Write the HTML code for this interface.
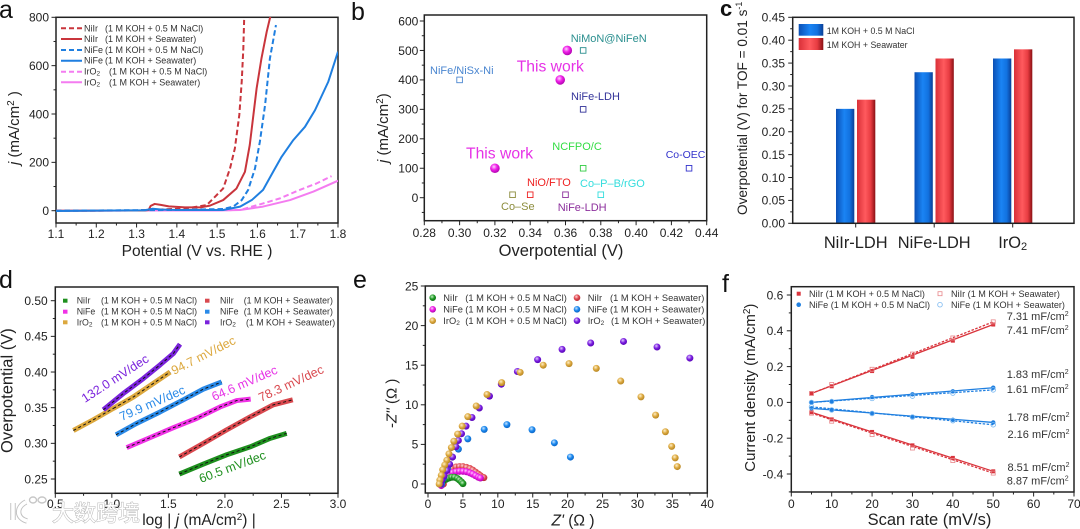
<!DOCTYPE html>
<html lang="en">
<head>
<meta charset="utf-8">
<title>Electrocatalyst performance figure</title>
<style>
html,body{margin:0;padding:0;background:#fff;}
#figure{display:block;width:1080px;height:529px;font-family:"Liberation Sans","Noto Sans CJK SC",sans-serif;filter:blur(0.35px);}
text{font-family:"Liberation Sans","Noto Sans CJK SC",sans-serif;fill:#222;}
.frame{fill:none;stroke:#222;stroke-width:1.5;}
.lg{font-size:9px;fill:#333;}
.title{font-size:16px;fill:#222;}
.pl{font-size:25px;fill:#111;}
.bl{font-size:11px;}
.tw{font-size:15.7px;fill:#e632e6;}
.ann{font-size:11px;fill:#333;}
.slope{font-size:12.5px;}
</style>
</head>
<body>
<svg id="figure" xmlns="http://www.w3.org/2000/svg" width="1080" height="529" viewBox="0 0 1080 529">
<defs>
<clipPath id="clipA"><rect x="56" y="17" width="282" height="206"/></clipPath>
<linearGradient id="barBlue" x1="0" x2="1" y1="0" y2="0">
<stop offset="0" stop-color="#0b4fb4"/><stop offset=".45" stop-color="#1a84f4"/><stop offset=".75" stop-color="#1272e0"/><stop offset="1" stop-color="#0a3f96"/>
</linearGradient>
<linearGradient id="barRed" x1="0" x2="1" y1="0" y2="0">
<stop offset="0" stop-color="#d93038"/><stop offset=".45" stop-color="#ff5a5e"/><stop offset=".75" stop-color="#e83c42"/><stop offset="1" stop-color="#8a1014"/>
</linearGradient>
<radialGradient id="ballMagenta" cx=".4" cy=".35" r=".7"><stop offset="0" stop-color="#ffd0ff"/><stop offset=".45" stop-color="#f020e8"/><stop offset="1" stop-color="#a800a8"/></radialGradient>
<radialGradient id="ballGreen" cx=".4" cy=".35" r=".7"><stop offset="0" stop-color="#c8f0c8"/><stop offset=".5" stop-color="#1e9a24"/><stop offset="1" stop-color="#0c6a12"/></radialGradient>
<radialGradient id="ballRed" cx=".4" cy=".35" r=".7"><stop offset="0" stop-color="#ffd8d8"/><stop offset=".5" stop-color="#e04850"/><stop offset="1" stop-color="#b02830"/></radialGradient>
<radialGradient id="ballBlue" cx=".4" cy=".35" r=".7"><stop offset="0" stop-color="#c8e4ff"/><stop offset=".5" stop-color="#1a88ee"/><stop offset="1" stop-color="#0a60c0"/></radialGradient>
<radialGradient id="ballGold" cx=".4" cy=".35" r=".7"><stop offset="0" stop-color="#fff0c8"/><stop offset=".5" stop-color="#dca83e"/><stop offset="1" stop-color="#b08020"/></radialGradient>
<radialGradient id="ballPurple" cx=".4" cy=".35" r=".7"><stop offset="0" stop-color="#e0c8ff"/><stop offset=".5" stop-color="#7a1ee0"/><stop offset="1" stop-color="#5400b0"/></radialGradient>
</defs>
<rect x="0" y="0" width="1080" height="529" fill="#fff"/>

<!-- Panel labels -->
<text class="pl" x="-1" y="18">a</text>
<text class="pl" x="351" y="20">b</text>
<text class="pl" x="720" y="16" font-weight="bold" style="font-size:22px">c</text>
<text class="pl" x="-1" y="288">d</text>
<text class="pl" x="353" y="288">e</text>
<text class="pl" x="722" y="292">f</text>

<!-- Panel A -->
<g id="panelA">
<rect class="frame" x="56" y="17.3" width="282" height="205.7"/>
<text x="197" y="256" text-anchor="middle" style="font-size:15.5px">Potential (V vs. RHE )</text>
<text transform="translate(19,165) rotate(-90)" style="font-size:15px"><tspan font-style="italic">j</tspan> (mA/cm<tspan dy="-5" font-size="10">2</tspan><tspan dy="5"> )</tspan></text>
<g>
<line x1="61" x2="82" y1="28.3" y2="28.3" stroke="#c9353c" stroke-width="2" stroke-dasharray="5 3"/>
<text class="lg" x="84" y="31.3">NiIr<tspan x="105">(1 M KOH + 0.5 M NaCl)</tspan></text>
<line x1="61" x2="82" y1="39" y2="39" stroke="#c9353c" stroke-width="2"/>
<text class="lg" x="84" y="42">NiIr<tspan x="105">(1 M KOH + Seawater)</tspan></text>
<line x1="61" x2="82" y1="50" y2="50" stroke="#1f7fe0" stroke-width="2" stroke-dasharray="5 3"/>
<text class="lg" x="84" y="53">NiFe<tspan x="105">(1 M KOH + 0.5 M NaCl)</tspan></text>
<line x1="61" x2="82" y1="60.7" y2="60.7" stroke="#1f7fe0" stroke-width="2"/>
<text class="lg" x="84" y="63.7">NiFe<tspan x="105">(1 M KOH + Seawater)</tspan></text>
<line x1="61" x2="82" y1="71.7" y2="71.7" stroke="#f47cf0" stroke-width="2" stroke-dasharray="5 3"/>
<text class="lg" x="84" y="74.7">IrO<tspan font-size="6.5" dy="1">2</tspan><tspan x="109" dy="-1">(1 M KOH + 0.5 M NaCl)</tspan></text>
<line x1="61" x2="82" y1="82.3" y2="82.3" stroke="#f47cf0" stroke-width="2"/>
<text class="lg" x="84" y="85.3">IrO<tspan font-size="6.5" dy="1">2</tspan><tspan x="109" dy="-1">(1 M KOH + Seawater)</tspan></text>
</g>
</g>

<!-- Panel B -->
<g id="panelB">
<rect class="frame" x="424.3" y="15" width="282.4" height="205.7"/>
<text x="561" y="256" text-anchor="middle" style="font-size:16.5px">Overpotential (V)</text>
<text transform="translate(388,163) rotate(-90)" style="font-size:15px"><tspan font-style="italic">j</tspan> (mA/cm<tspan dy="-5" font-size="10">2</tspan><tspan dy="5">)</tspan></text>
<text class="bl" x="570.7" y="42" style="fill:#2a8f8f">NiMoN@NiFeN</text>
<text class="bl" x="430" y="74" style="fill:#4a86d0">NiFe/NiSx-Ni</text>
<text class="tw" x="516.7" y="71.7">This work</text>
<text class="bl" x="571" y="100" style="fill:#333399">NiFe-LDH</text>
<text class="bl" x="552.3" y="150" style="fill:#33dd44">NCFPO/C</text>
<text class="bl" x="665.7" y="158" style="fill:#3333cc;font-size:10.5px">Co-OEC</text>
<text class="tw" x="466" y="158.3">This work</text>
<text class="bl" x="527" y="186" style="fill:#ee2222">NiO/FTO</text>
<text class="bl" x="580" y="187" style="fill:#33dddd">Co–P–B/rGO</text>
<text class="bl" x="501" y="210" style="fill:#8c8c3c">Co–Se</text>
<text class="bl" x="557.7" y="211" style="fill:#8c2f9c">NiFe-LDH</text>
</g>

<!-- Panel C -->
<g id="panelC">
<text transform="translate(747,215) rotate(-90)" style="font-size:13.6px">Overpotential (V) for TOF = 0.01 s<tspan dy="-5" font-size="9">-1</tspan></text>
<g>
<rect x="798.7" y="24" width="24.6" height="11.7" fill="url(#barBlue)"/>
<text class="lg" x="826.7" y="34" style="font-size:8.8px">1M KOH + 0.5 M NaCl</text>
<rect x="798.7" y="38" width="24.6" height="12" fill="url(#barRed)"/>
<text class="lg" x="826.7" y="48" style="font-size:8.8px">1M KOH + Seawater</text>
</g>
</g>

<!-- Panel D -->
<g id="panelD">
<rect class="frame" x="55.3" y="287" width="282.7" height="206.3"/>
<text x="199" y="525" text-anchor="middle" style="font-size:15.5px">log | <tspan font-style="italic">j</tspan> (mA/cm<tspan dy="-5" font-size="10">2</tspan><tspan dy="5">) |</tspan></text>
<text transform="translate(12.7,453) rotate(-90)" style="font-size:16.5px">Overpotential (V)</text>
<g>
<rect x="63" y="298.7" width="4.5" height="4" fill="#1e8f1e"/>
<text class="lg" x="76.7" y="303.7" style="font-size:8.8px">NiIr<tspan x="101">(1 M KOH + 0.5 M NaCl)</tspan></text>
<rect x="63" y="309.7" width="4.5" height="4" fill="#f032e6"/>
<text class="lg" x="76.7" y="314.7" style="font-size:8.8px">NiFe<tspan x="101">(1 M KOH + 0.5 M NaCl)</tspan></text>
<rect x="63" y="320.3" width="4.5" height="4" fill="#dca83e"/>
<text class="lg" x="76.7" y="325.3" style="font-size:8.8px">IrO<tspan font-size="6.5" dy="1">2</tspan><tspan x="101" dy="-1">(1 M KOH + 0.5 M NaCl)</tspan></text>
<rect x="205" y="298.7" width="4.5" height="4" fill="#d9494f"/>
<text class="lg" x="220" y="303.7" style="font-size:8.8px">NiIr<tspan x="243.7">(1 M KOH + Seawater)</tspan></text>
<rect x="205" y="309.7" width="4.5" height="4" fill="#2a8ae8"/>
<text class="lg" x="220" y="314.7" style="font-size:8.8px">NiFe<tspan x="243.7">(1 M KOH + Seawater)</tspan></text>
<rect x="205" y="320.3" width="4.5" height="4" fill="#7a22dc"/>
<text class="lg" x="220" y="325.3" style="font-size:8.8px">IrO<tspan font-size="6.5" dy="1">2</tspan><tspan x="246" dy="-1">(1 M KOH + Seawater)</tspan></text>
</g>
</g>

<!-- Panel E -->
<g id="panelE">
<rect class="frame" x="425.3" y="286" width="282" height="207"/>
<text x="573" y="525.5" text-anchor="middle" style="font-size:15.5px"><tspan font-style="italic">Z'</tspan> (Ω )</text>
<text transform="translate(396.7,428) rotate(-90)" style="font-size:15px">-<tspan font-style="italic">Z''</tspan> (Ω )</text>
<g>
<circle cx="432.7" cy="297.7" r="3.3" fill="url(#ballGreen)"/>
<text class="lg" x="443.3" y="300.9" style="font-size:9.3px">NiIr<tspan x="465.3">(1 M KOH + 0.5 M NaCl)</tspan></text>
<circle cx="432.7" cy="309.3" r="3.3" fill="url(#ballMagenta)"/>
<text class="lg" x="443.3" y="312.5" style="font-size:9.3px">NiFe<tspan x="465.3">(1 M KOH + 0.5 M NaCl)</tspan></text>
<circle cx="432.7" cy="320.7" r="3.3" fill="url(#ballGold)"/>
<text class="lg" x="443.3" y="323.9" style="font-size:9.3px">IrO<tspan font-size="6.5" dy="1">2</tspan><tspan x="465.3" dy="-1">(1 M KOH + 0.5 M NaCl)</tspan></text>
<circle cx="577" cy="297.7" r="3.3" fill="url(#ballRed)"/>
<text class="lg" x="587.7" y="300.9" style="font-size:9.3px">NiIr<tspan x="610">(1 M KOH + Seawater)</tspan></text>
<circle cx="577" cy="309.3" r="3.3" fill="url(#ballBlue)"/>
<text class="lg" x="587.7" y="312.5" style="font-size:9.3px">NiFe<tspan x="610">(1 M KOH + Seawater)</tspan></text>
<circle cx="577" cy="320.7" r="3.3" fill="url(#ballPurple)"/>
<text class="lg" x="587.7" y="323.9" style="font-size:9.3px">IrO<tspan font-size="6.5" dy="1">2</tspan><tspan x="611" dy="-1">(1 M KOH + Seawater)</tspan></text>
</g>
</g>

<!-- Panel F -->
<g id="panelF">
<rect class="frame" x="791.3" y="286.7" width="282.7" height="205.3"/>
<text x="929.5" y="525" text-anchor="middle" style="font-size:16.5px">Scan rate (mV/s)</text>
<text transform="translate(755,471.7) rotate(-90)" style="font-size:15px">Current density (mA/cm<tspan dy="-5" font-size="10">2</tspan><tspan dy="5">)</tspan></text>
<g>
<rect x="796.7" y="291.7" width="4" height="4" fill="#d9343c"/>
<text class="lg" x="809" y="296.9" style="font-size:9.1px">NiIr (1 M KOH + 0.5 M NaCl)</text>
<circle cx="798.7" cy="304.7" r="2.3" fill="#1f7fe0"/>
<text class="lg" x="809" y="307.9" style="font-size:9.1px">NiFe (1 M KOH + 0.5 M NaCl)</text>
<rect x="938" y="291.7" width="4" height="4" fill="none" stroke="#e8888c" stroke-width=".8"/>
<text class="lg" x="951" y="296.9" style="font-size:9.1px">NiIr (1 M KOH + Seawater)</text>
<circle cx="940" cy="304.7" r="2.3" fill="none" stroke="#7ab8f0" stroke-width=".8"/>
<text class="lg" x="951" y="307.9" style="font-size:9.1px">NiFe (1 M KOH + Seawater)</text>
</g>
<text class="ann" x="1006.7" y="320">7.31 mF/cm<tspan dy="-4" font-size="7">2</tspan></text>
<text class="ann" x="1006.7" y="334">7.41 mF/cm<tspan dy="-4" font-size="7">2</tspan></text>
<text class="ann" x="1006.7" y="378">1.83 mF/cm<tspan dy="-4" font-size="7">2</tspan></text>
<text class="ann" x="1006.7" y="393">1.61 mF/cm<tspan dy="-4" font-size="7">2</tspan></text>
<text class="ann" x="1007.5" y="421">1.78 mF/cm<tspan dy="-4" font-size="7">2</tspan></text>
<text class="ann" x="1007.5" y="438">2.16 mF/cm<tspan dy="-4" font-size="7">2</tspan></text>
<text class="ann" x="1007.5" y="471">8.51 mF/cm<tspan dy="-4" font-size="7">2</tspan></text>
<text class="ann" x="1006.7" y="484.5">8.87 mF/cm<tspan dy="-4" font-size="7">2</tspan></text>
</g>

<!-- Watermark -->
<g id="watermark" opacity=".95">
<path d="M13 503 V520 M26 502 C16 507 16 518 27 521" fill="none" stroke="#bdbdbd" stroke-width="5.4"/>
<path d="M13 503 V520 M26 502 C16 507 16 518 27 521" fill="none" stroke="#fff" stroke-width="3.6"/>
<ellipse cx="33" cy="500" rx="3.5" ry="3" fill="none" stroke="#c4c4c4" stroke-width="1.4"/>
<ellipse cx="42" cy="500" rx="4" ry="3" fill="none" stroke="#c4c4c4" stroke-width="1.4"/>
<text x="52" y="521" style="font-size:22px;fill:#fff;stroke:#b4b4b4;stroke-width:1px;paint-order:stroke">大数跨境</text>
</g>
</svg>

<script>
// Panel a: polarisation curves
const lsvPotentialNiIrNaCl = [1.1, 1.3, 1.4, 1.433, 1.474, 1.515, 1.532, 1.544, 1.555, 1.561, 1.565, 1.567];
const lsvCurrentNiIrNaCl = [0, 1, 8, 12, 23, 92, 175, 258, 396, 534, 671, 789];
const lsvPotentialNiIrSea = [1.1, 1.32, 1.33, 1.335, 1.345, 1.36, 1.38, 1.42, 1.46, 1.482, 1.515, 1.548, 1.569, 1.581, 1.59, 1.598, 1.61, 1.623, 1.633];
const lsvCurrentNiIrSea = [0, 1, 3, 20, 28, 24, 18, 14, 14, 21, 44, 92, 161, 272, 396, 506, 630, 740, 810];
const lsvPotentialNiFeNaCl = [1.1, 1.4, 1.515, 1.54, 1.561, 1.577, 1.594, 1.606, 1.619, 1.631, 1.646];
const lsvCurrentNiFeNaCl = [0, 3, 7, 17, 44, 86, 175, 285, 437, 630, 768];
const lsvPotentialNiFeSea = [1.1, 1.32, 1.34, 1.36, 1.4, 1.515, 1.557, 1.586, 1.614, 1.639, 1.66, 1.689, 1.718, 1.743, 1.776, 1.8];
const lsvCurrentNiFeSea = [-1, 2, 8, 5, 3, 3, 17, 44, 86, 161, 223, 292, 347, 416, 534, 658];
const lsvPotentialIrNaCl = [1.1, 1.4, 1.5, 1.557, 1.614, 1.656, 1.705, 1.747, 1.784];
const lsvCurrentIrNaCl = [0, 1, 2, 3, 30, 51, 86, 113, 143];
const lsvPotentialIrSea = [1.1, 1.4, 1.5, 1.557, 1.614, 1.681, 1.739, 1.8];
const lsvCurrentIrSea = [0, 1, 1, 3, 17, 44, 79, 124];
const lsvXTicks = ['1.1', '1.2', '1.3', '1.4', '1.5', '1.6', '1.7', '1.8'];
const lsvYTicks = ['0', '200', '400', '600', '800'];

// Panel b: literature comparison
const refOverpotentials = [0.30, 0.37, 0.37, 0.37, 0.43, 0.33, 0.34, 0.36, 0.38];
const refCurrents = [400, 500, 300, 100, 100, 10, 10, 10, 10];
const thisWorkOverpotentials = [0.361, 0.357, 0.32];
const thisWorkCurrents = [500, 400, 100];
const cmpXTicks = ['0.28', '0.30', '0.32', '0.34', '0.36', '0.38', '0.40', '0.42', '0.44'];
const cmpYTicks = ['0', '100', '200', '300', '400', '500', '600'];

// Panel c: TOF overpotential bars
const tofCategories = ['NiIr-LDH', 'NiFe-LDH', 'IrO'];
const tofNaCl = [0.25, 0.33, 0.36];
const tofSeawater = [0.27, 0.36, 0.38];
const tofYTicks = ['0.00', '0.05', '0.10', '0.15', '0.20', '0.25', '0.30', '0.35', '0.40', '0.45'];

// Panel d: Tafel plots
const tafelLogJNiIrNaCl = [1.597, 1.81, 2.016, 2.222, 2.4, 2.546];
const tafelEtaNiIrNaCl = [0.257, 0.271, 0.284, 0.295, 0.307, 0.314];
const tafelLogJNiIrSea = [1.597, 1.81, 2.016, 2.222, 2.428, 2.6];
const tafelEtaNiIrSea = [0.281, 0.300, 0.319, 0.337, 0.354, 0.361];
const tafelLogJNiFeNaCl = [1.131, 1.338, 1.544, 1.75, 1.957, 2.104, 2.228];
const tafelEtaNiFeNaCl = [0.294, 0.308, 0.322, 0.335, 0.351, 0.360, 0.362];
const tafelLogJNiFeSea = [1.037, 1.22, 1.426, 1.632, 1.809, 1.971];
const tafelEtaNiFeSea = [0.312, 0.328, 0.344, 0.361, 0.376, 0.386];
const tafelLogJIrNaCl = [0.66, 0.836, 1.013, 1.19, 1.367, 1.515];
const tafelEtaIrNaCl = [0.318, 0.333, 0.349, 0.365, 0.384, 0.400];
const tafelLogJIrSea = [0.925, 1.102, 1.279, 1.426, 1.544, 1.603];
const tafelEtaIrSea = [0.347, 0.370, 0.391, 0.410, 0.426, 0.439];
const tafelSlopeLabels = ['132.0 mV/dec', '94.7 mV/dec', '79.9 mV/dec', '64.6 mV/dec', '78.3 mV/dec', '60.5 mV/dec'];
const tafelXTicks = ['0.5', '1.0', '1.5', '2.0', '2.5', '3.0'];
const tafelYTicks = ['0.25', '0.30', '0.35', '0.40', '0.45', '0.50'];

// Panel e: Nyquist plots
const nyqReGreen = [1.8, 2.2, 2.6, 3, 3.4, 3.8, 4.2, 4.5, 4.8, 5];
const nyqImGreen = [0, 0.4, 0.6, 0.75, 0.85, 0.85, 0.7, 0.5, 0.25, 0.05];
const nyqReRed = [2.2, 2.4, 2.7, 3.1, 3.5, 4, 4.5, 5, 5.5, 6, 6.4, 6.8, 7.2, 7.5, 7.8, 8];
const nyqImRed = [0, 0.8, 1.3, 1.7, 2, 2.15, 2.2, 2.2, 2.1, 1.95, 1.75, 1.5, 1.25, 1.05, 0.85, 0.8];
const nyqRePink = [1.9, 2.2, 2.6, 3, 3.5, 4, 4.5, 5, 5.5, 6, 6.4, 6.8, 7.2, 7.5];
const nyqImPink = [-0.2, 0.5, 1, 1.25, 1.45, 1.55, 1.6, 1.6, 1.55, 1.4, 1.25, 1.05, 0.85, 0.75];
const nyqReBlue = [20.4, 18.1, 14.9, 11.3, 8.05, 5.7, 4.35, 3.5, 2.8, 2.2, 1.95];
const nyqImBlue = [3.4, 5.2, 6.85, 7.5, 6.9, 5.7, 4.4, 3.4, 2, 0.7, 0];
const nyqRePurple = [37.5, 32.8, 28, 23.3, 19.2, 15.7, 12.8, 10.5, 8.8, 7.35, 6.3, 5.45, 4.8, 4.35, 4, 3.5, 3.1, 2.7, 2.3, 2, 1.8];
const nyqImPurple = [15.9, 17.3, 18, 17.8, 17, 15.7, 14.2, 12.6, 11.1, 9.6, 8.4, 7.3, 6.35, 5.5, 4.7, 3.4, 2.5, 1.7, 1, 0.5, 0];
const nyqReGold = [35.7, 35.4, 34.9, 34, 32.6, 30.5, 27.6, 24.1, 20.2, 16.5, 13.2, 10.55, 8.45, 6.9, 5.7, 4.9, 4.25, 3.7, 3.35, 3, 2.7, 2.4, 2.1, 1.9, 1.7, 1.6];
const nyqImGold = [2.2, 3.3, 4.75, 6.6, 8.7, 11, 13, 14.6, 15.2, 15, 14.1, 12.8, 11.3, 9.85, 8.5, 7.3, 6.3, 5.4, 4.6, 3.8, 3, 2.4, 1.8, 1.1, 0.5, 0];
const nyqXTicks = ['0', '5', '10', '15', '20', '25', '30', '35', '40'];
const nyqYTicks = ['0', '5', '10', '15', '20', '25'];

// Panel f: double-layer capacitance
const capScanRates = [5, 10, 20, 30, 40, 50];
const capNiIrNaClAnodic = [0.05, 0.09, 0.175, 0.255, 0.345, 0.435];
const capNiIrSeaAnodic = [0.05, 0.10, 0.185, 0.27, 0.36, 0.45];
const capNiFeNaClAnodic = [0, 0.005, 0.03, 0.045, 0.062, 0.082];
const capNiFeSeaAnodic = [0, 0.005, 0.022, 0.035, 0.052, 0.07];
const capNiFeNaClCathodic = [-0.033, -0.042, -0.06, -0.08, -0.097, -0.112];
const capNiFeSeaCathodic = [-0.025, -0.042, -0.062, -0.082, -0.102, -0.125];
const capNiIrNaClCathodic = [-0.055, -0.095, -0.165, -0.24, -0.31, -0.385];
const capNiIrSeaCathodic = [-0.06, -0.105, -0.18, -0.255, -0.325, -0.395];
const capXTicks = ['0', '10', '20', '30', '40', '50', '60', '70'];
const capYTicks = ['-0.4', '-0.2', '0.0', '0.2', '0.4', '0.6'];

const SVG_NS = 'http://www.w3.org/2000/svg';
function mk(tag, parent, attrs) {
  const el = document.createElementNS(SVG_NS, tag);
  Object.keys(attrs).forEach(function (k) { el.setAttribute(k, attrs[k]); });
  parent.appendChild(el);
  return el;
}
function linear(d0, d1, r0, r1) {
  return function (v) { return r0 + (v - d0) / (d1 - d0) * (r1 - r0); };
}
function pts(xs, ys, fx, fy) {
  return xs.map(function (x, i) { return fx(x).toFixed(2) + ',' + fy(ys[i]).toFixed(2); }).join(' ');
}
function tick(parent, x1, y1, x2, y2) {
  const el = mk('line', parent, { x1: x1, y1: y1, x2: x2, y2: y2, stroke: '#222', 'stroke-width': 1 });
  
  
}
function tickText(parent, x, y, str, anchor) {
  const el = mk('text', parent, { x: x, y: y, 'text-anchor': anchor, 'font-size': 12 });
  el.textContent = str;
  
  
}
function xAxis(parent, labels, fx, base, labelY) {
  labels.forEach(function (l, i) {
    const v = parseFloat(l);
    tick(parent, fx(v), base, fx(v), base + 4.5);
    tickText(parent, fx(v), labelY, l, 'middle');
    if (i < labels.length - 1) {
      const m = (v + parseFloat(labels[i + 1])) / 2;
      tick(parent, fx(m), base, fx(m), base + 2.5);
    }
  });
}
function yAxis(parent, labels, fy, base, labelX, extraMinor) {
  labels.forEach(function (l, i) {
    const v = parseFloat(l);
    tick(parent, base - 4.5, fy(v), base, fy(v));
    tickText(parent, labelX, fy(v) + 4.3, l, 'end');
    if (i < labels.length - 1) {
      const m = (v + parseFloat(labels[i + 1])) / 2;
      tick(parent, base - 2.5, fy(m), base, fy(m));
    }
  });
  (extraMinor || []).forEach(function (m) { tick(parent, base - 2.5, fy(m), base, fy(m)); });
}

/* ---------- Panel a ---------- */
(function () {
  const g = document.getElementById('panelA');
  const fx = linear(1.1, 1.8, 56, 338);
  const fy = linear(0, 800, 210.7, 17.3);
  xAxis(g, lsvXTicks, fx, 223, 238);
  yAxis(g, lsvYTicks, fy, 56, 49);
  const plot = mk('g', g, { 'clip-path': 'url(#clipA)' });
  
  
  function curve(xs, ys, color, dashed, name) {
    const line = mk('polyline', plot, { points: pts(xs, ys, fx, fy), fill: 'none', stroke: color, 'stroke-width': 2, 'stroke-linejoin': 'round' });
    if (dashed) { line.setAttribute('stroke-dasharray', '5.5 3'); }
    
    
  }
  curve(lsvPotentialIrNaCl, lsvCurrentIrNaCl, '#f47cf0', true, 'lsv-curve-iro2-nacl');
  curve(lsvPotentialIrSea, lsvCurrentIrSea, '#f47cf0', false, 'lsv-curve-iro2-seawater');
  curve(lsvPotentialNiIrNaCl, lsvCurrentNiIrNaCl, '#c9353c', true, 'lsv-curve-niir-nacl');
  curve(lsvPotentialNiIrSea, lsvCurrentNiIrSea, '#c9353c', false, 'lsv-curve-niir-seawater');
  curve(lsvPotentialNiFeNaCl, lsvCurrentNiFeNaCl, '#1f7fe0', true, 'lsv-curve-nife-nacl');
  curve(lsvPotentialNiFeSea, lsvCurrentNiFeSea, '#1f7fe0', false, 'lsv-curve-nife-seawater');
})();

/* ---------- Panel b ---------- */
(function () {
  const g = document.getElementById('panelB');
  const fx = linear(0.28, 0.44, 424.3, 706.7);
  const fy = linear(0, 600, 197.7, 21);
  const refColors = ['#4a86d0', '#2a8f8f', '#333399', '#33cc44', '#3333cc', '#8c8c3c', '#ee2222', '#8c2f9c', '#33dddd'];
  xAxis(g, cmpXTicks, fx, 220.7, 237);
  yAxis(g, cmpYTicks, fy, 424.3, 418.3, [-50]);
  refOverpotentials.forEach(function (v, i) {
    const sq = mk('rect', g, { x: fx(v) - 2.8, y: fy(refCurrents[i]) - 2.8, width: 5.6, height: 5.6, fill: 'none', stroke: refColors[i], 'stroke-width': 0.9 });
    
    
  });
  thisWorkOverpotentials.forEach(function (v, i) {
    const c = mk('circle', g, { cx: fx(v), cy: fy(thisWorkCurrents[i]), r: 4.8, fill: 'url(#ballMagenta)' });
    
    
  });
})();

/* ---------- Panel c ---------- */
(function () {
  const g = document.getElementById('panelC');
  const fy = linear(0, 0.45, 223.3, 17.3);
  const fx = function (i) { return 855.7 + i * 78.5; };
  tofYTicks.forEach(function (l, i) {
    const v = parseFloat(l);
    if (i < tofYTicks.length - 1) {
      const m = (v + parseFloat(tofYTicks[i + 1])) / 2;
      tick(g, 792.7 - 2.5, fy(m), 792.7, fy(m));
    }
    tick(g, 792.7 - 4.5, fy(v), 792.7, fy(v));
    tickText(g, 785, fy(v) + 4.3, l, 'end');
  });
  tofCategories.forEach(function (cat, i) {
    const cx = fx(i);
    const blue = mk('rect', g, { x: cx - 19.7, y: fy(tofNaCl[i]), width: 18.3, height: 223.3 - fy(tofNaCl[i]), fill: 'url(#barBlue)' });
    
    
    const red = mk('rect', g, { x: cx + 1.3, y: fy(tofSeawater[i]), width: 18.3, height: 223.3 - fy(tofSeawater[i]), fill: 'url(#barRed)' });
    
    
    tick(g, cx, 223.3, cx, 227.5);
    const label = mk('text', g, { x: cx, y: 248, 'text-anchor': 'middle', 'font-size': 16.4 });
    label.textContent = cat;
    if (cat === 'IrO') {
      const sub = mk('tspan', label, { 'font-size': 11, dy: 2 });
      sub.textContent = '2';
    }
    
    
  });
  const frame = mk('rect', g, { class: 'frame', x: 792.7, y: 17.3, width: 281.3, height: 206 });
  
  
})();

/* ---------- Panel d ---------- */
(function () {
  const g = document.getElementById('panelD');
  const fx = linear(0.5, 3.0, 55.3, 338);
  const fy = linear(0.25, 0.5, 479, 300.7);
  xAxis(g, tafelXTicks, fx, 493.3, 508);
  yAxis(g, tafelYTicks, fy, 55.3, 47.7);
  function band(xs, ys, color, name) {
    const b = mk('polyline', g, { points: pts(xs, ys, fx, fy), fill: 'none', stroke: color, 'stroke-width': 5, 'stroke-linejoin': 'round' });
    
    
    const fit = mk('polyline', g, { points: pts(xs, ys, fx, fy), fill: 'none', stroke: '#111', 'stroke-width': 1, 'stroke-dasharray': '3 2.6' });
    
    
  }
  band(tafelLogJNiIrNaCl, tafelEtaNiIrNaCl, '#1e8f1e', 'tafel-series-niir-nacl');
  band(tafelLogJNiIrSea, tafelEtaNiIrSea, '#d9494f', 'tafel-series-niir-seawater');
  band(tafelLogJIrNaCl, tafelEtaIrNaCl, '#dca83e', 'tafel-series-iro2-nacl');
  band(tafelLogJNiFeNaCl, tafelEtaNiFeNaCl, '#f032e6', 'tafel-series-nife-nacl');
  band(tafelLogJNiFeSea, tafelEtaNiFeSea, '#2a8ae8', 'tafel-series-nife-seawater');
  band(tafelLogJIrSea, tafelEtaIrSea, '#7a22dc', 'tafel-series-iro2-seawater');
  band(tafelLogJIrNaCl.slice(2), tafelEtaIrNaCl.slice(2), '#dca83e', 'tafel-series-iro2-nacl-upper');
  const slopeColors = ['#7a22dc', '#dca83e', '#2a8ae8', '#e632e6', '#d9494f', '#1e8f1e'];
  const slopeAnchorX = [85, 174, 121.7, 214, 261, 201];
  const slopeAnchorY = [403, 375, 421, 401, 402, 483];
  const slopeAngle = [-33, -27, -23.5, -23.5, -25, -20.5];
  tafelSlopeLabels.forEach(function (str, i) {
    const t = mk('text', g, { class: 'slope', transform: 'translate(' + slopeAnchorX[i] + ',' + slopeAnchorY[i] + ') rotate(' + slopeAngle[i] + ')', style: 'fill:' + slopeColors[i] });
    t.textContent = str;
    
    
  });
})();

/* ---------- Panel e ---------- */
(function () {
  const g = document.getElementById('panelE');
  const fx = linear(0, 40, 428, 707.3);
  const fy = linear(0, 25, 484, 286);
  xAxis(g, nyqXTicks, fx, 493, 508);
  yAxis(g, nyqYTicks, fy, 425.3, 418.3);
  function series(xs, ys, fill, name) {
    xs.forEach(function (x, i) {
      const c = mk('circle', g, { cx: fx(x), cy: fy(ys[i]), r: 3.5, fill: fill });
      
      
    });
  }
  series(nyqReRed, nyqImRed, 'url(#ballRed)', 'nyquist-point-niir-seawater');
  series(nyqRePink, nyqImPink, 'url(#ballMagenta)', 'nyquist-point-nife-nacl');
  series(nyqReGreen, nyqImGreen, 'url(#ballGreen)', 'nyquist-point-niir-nacl');
  series(nyqReBlue, nyqImBlue, 'url(#ballBlue)', 'nyquist-point-nife-seawater');
  series(nyqRePurple, nyqImPurple, 'url(#ballPurple)', 'nyquist-point-iro2-seawater');
  series(nyqReGold, nyqImGold, 'url(#ballGold)', 'nyquist-point-iro2-nacl');
})();

/* ---------- Panel f ---------- */
(function () {
  const g = document.getElementById('panelF');
  const fx = linear(0, 70, 791.3, 1074);
  const fy = linear(-0.4, 0.6, 474, 295);
  xAxis(g, capXTicks, fx, 492, 508);
  yAxis(g, capYTicks, fy, 791.3, 783.3, [-0.5]);
  function fit(ys, color, dashed, name) {
    const n = capScanRates.length - 1;
    const l = mk('line', g, { x1: fx(capScanRates[0]), y1: fy(ys[0]), x2: fx(capScanRates[n]), y2: fy(ys[n]), stroke: color, 'stroke-width': 1.3 });
    if (dashed) { l.setAttribute('stroke-dasharray', '2.5 1.5'); }
    
    
  }
  function squares(ys, filled, name) {
    capScanRates.forEach(function (x, i) {
      const s = mk('rect', g, { x: fx(x) - 2, y: fy(ys[i]) - 2, width: 4, height: 4, fill: filled ? '#d9343c' : 'none', stroke: filled ? 'none' : '#e8888c', 'stroke-width': 0.8 });
      
      
    });
  }
  function dots(ys, filled, name) {
    capScanRates.forEach(function (x, i) {
      const c = mk('circle', g, { cx: fx(x), cy: fy(ys[i]), r: filled ? 2.2 : 2.3, fill: filled ? '#1f7fe0' : 'none', stroke: filled ? 'none' : '#7ab8f0', 'stroke-width': 0.8 });
      
      
    });
  }
  fit(capNiIrNaClAnodic, '#d9343c', false, 'capacitance-fit-niir-nacl-anodic');
  fit(capNiIrSeaAnodic, '#d9343c', true, 'capacitance-fit-niir-seawater-anodic');
  fit(capNiIrNaClCathodic, '#d9343c', false, 'capacitance-fit-niir-nacl-cathodic');
  fit(capNiIrSeaCathodic, '#d9343c', true, 'capacitance-fit-niir-seawater-cathodic');
  fit(capNiFeNaClAnodic, '#1f7fe0', false, 'capacitance-fit-nife-nacl-anodic');
  fit(capNiFeSeaAnodic, '#1f7fe0', true, 'capacitance-fit-nife-seawater-anodic');
  fit(capNiFeNaClCathodic, '#1f7fe0', false, 'capacitance-fit-nife-nacl-cathodic');
  fit(capNiFeSeaCathodic, '#1f7fe0', true, 'capacitance-fit-nife-seawater-cathodic');
  squares(capNiIrNaClAnodic, true, 'capacitance-point-niir-nacl-anodic');
  squares(capNiIrSeaAnodic, false, 'capacitance-point-niir-seawater-anodic');
  squares(capNiIrNaClCathodic, true, 'capacitance-point-niir-nacl-cathodic');
  squares(capNiIrSeaCathodic, false, 'capacitance-point-niir-seawater-cathodic');
  dots(capNiFeNaClAnodic, true, 'capacitance-point-nife-nacl-anodic');
  dots(capNiFeSeaAnodic, false, 'capacitance-point-nife-seawater-anodic');
  dots(capNiFeNaClCathodic, true, 'capacitance-point-nife-nacl-cathodic');
  dots(capNiFeSeaCathodic, false, 'capacitance-point-nife-seawater-cathodic');
})();

// keep watermark above panel d's tick labels
document.getElementById('figure').appendChild(document.getElementById('watermark'));
</script>
</body>
</html>
